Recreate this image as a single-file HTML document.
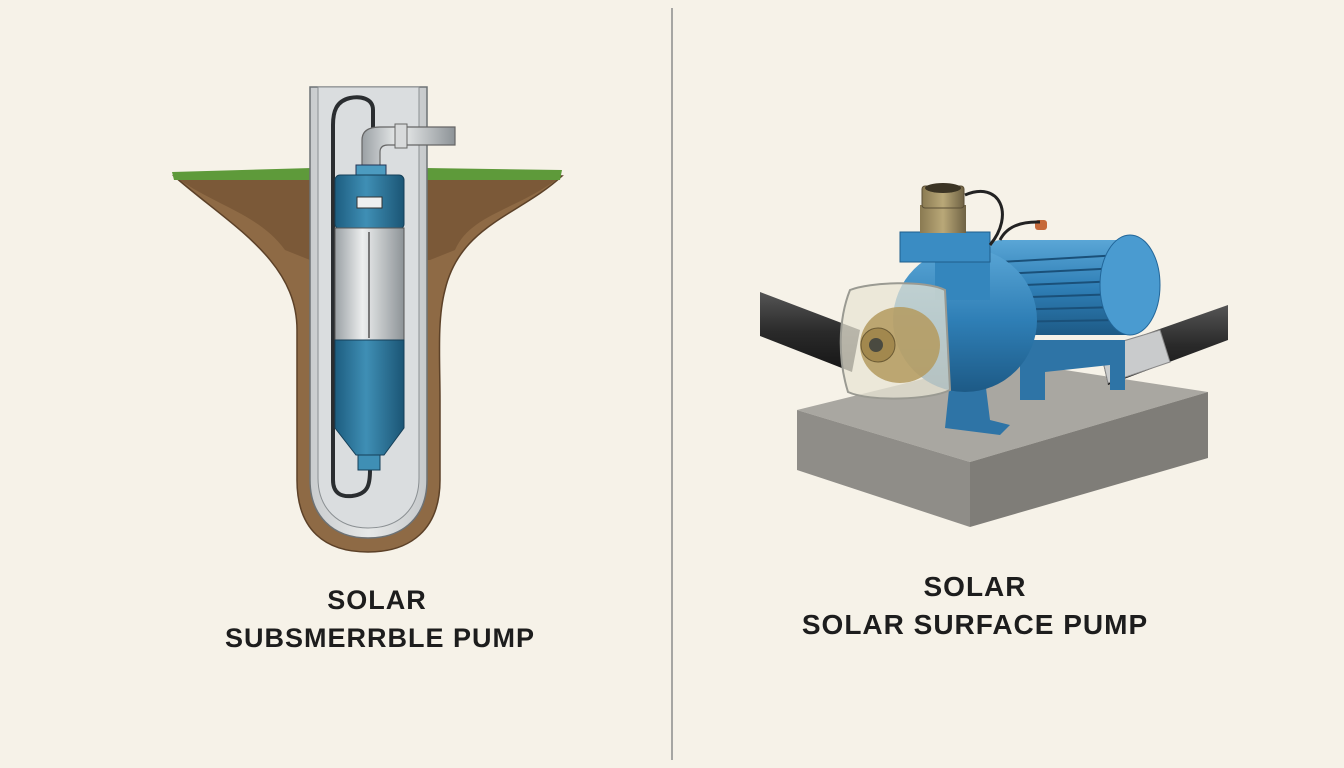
<!DOCTYPE html>
<html><head><meta charset="utf-8"><style>
html,body{margin:0;padding:0;background:#f6f2e8;}
svg{display:block}
text{font-family:"Liberation Sans",sans-serif;font-weight:bold;fill:#1d1d1d;letter-spacing:1px}
</style></head><body>
<svg width="1344" height="768" viewBox="0 0 1344 768" xmlns="http://www.w3.org/2000/svg">
<defs>
<linearGradient id="blue" x1="0" x2="1"><stop offset="0" stop-color="#1d5d80"/><stop offset="0.45" stop-color="#3f8fb5"/><stop offset="1" stop-color="#1b5575"/></linearGradient>
<linearGradient id="silver" x1="0" x2="1"><stop offset="0" stop-color="#9aa0a4"/><stop offset="0.4" stop-color="#eceeee"/><stop offset="1" stop-color="#8d9397"/></linearGradient>
<linearGradient id="casing" x1="0" x2="1"><stop offset="0" stop-color="#c9ccce"/><stop offset="0.5" stop-color="#e6e8e8"/><stop offset="1" stop-color="#c6c9cb"/></linearGradient>
<linearGradient id="mblue" x1="0" y1="0" x2="0" y2="1"><stop offset="0" stop-color="#5aa6d6"/><stop offset="0.5" stop-color="#2f7fb6"/><stop offset="1" stop-color="#1d5a86"/></linearGradient>
<linearGradient id="brass" x1="0" x2="1"><stop offset="0" stop-color="#8a7a52"/><stop offset="0.5" stop-color="#b9a878"/><stop offset="1" stop-color="#6f6244"/></linearGradient>
<linearGradient id="hose" x1="0" y1="0" x2="0" y2="1"><stop offset="0" stop-color="#555"/><stop offset="0.5" stop-color="#2a2a2a"/><stop offset="1" stop-color="#151515"/></linearGradient>
</defs>

<path d="M174,176 L562,176 C520,215 460,225 445,290 C437,320 440,360 440,400 L440,480 C440,530 410,552 368,552 C325,552 297,530 297,480 L297,330 C297,260 230,225 174,176 Z" fill="#8e6a45" stroke="#5c4128" stroke-width="1.5"/>
<path d="M180,180 L556,180 C515,210 470,215 455,250 L430,260 L310,260 L285,250 C260,215 215,205 180,180Z" fill="#6e4e31" opacity="0.6"/>
<path d="M172,172 L312,168 L312,180 L174,180 Z" fill="#5e9a3a"/>
<path d="M425,168 L562,170 L560,180 L425,180 Z" fill="#5e9a3a"/>
<path d="M310,87 L427,87 L427,480 C427,515 405,538 368,538 C332,538 310,515 310,480 Z" fill="url(#casing)" stroke="#6d7275" stroke-width="1.5"/>
<path d="M318,87 L419,87 L419,478 C419,508 400,528 368,528 C338,528 318,508 318,478 Z" fill="#dadddf" stroke="#8a8f92" stroke-width="1"/>
<path d="M373,128 L373,110 C373,98 360,96 350,98 C336,101 333,112 333,125 L333,480 C333,494 342,497 352,496 C368,494 370,485 370,470" fill="none" stroke="#2a2d30" stroke-width="4"/>
<path d="M362,168 L362,140 C362,130 370,127 380,127 L455,127 L455,145 L388,145 C382,145 380,148 380,152 L380,168 Z" fill="url(#silver)" stroke="#666" stroke-width="1.2"/>
<rect x="395" y="124" width="12" height="24" fill="#d8dadb" stroke="#666"/>
<rect x="356" y="165" width="30" height="10" fill="#4c9bc0" stroke="#235"/>
<rect x="335" y="175" width="69" height="54" rx="5" fill="url(#blue)" stroke="#153f58"/>
<rect x="357" y="197" width="25" height="11" fill="#eef0f0" stroke="#333"/>
<rect x="335" y="228" width="69" height="112" fill="url(#silver)" stroke="#555"/>
<line x1="369" y1="232" x2="369" y2="338" stroke="#777" stroke-width="2"/>
<path d="M335,340 L404,340 L404,428 L384,455 L356,455 L335,428 Z" fill="url(#blue)" stroke="#153f58"/>
<rect x="358" y="455" width="22" height="15" fill="#3f8fb5" stroke="#153f58"/>

<line x1="672" y1="8" x2="672" y2="760" stroke="#8c8c8c" stroke-width="1.5"/>

<path d="M797,410 L1000,360 L1208,392 L970,462 Z" fill="#a9a7a1"/>
<path d="M797,410 L970,462 L970,527 L797,470 Z" fill="#8f8d88"/>
<path d="M970,462 L1208,392 L1208,458 L970,527 Z" fill="#7f7d78"/>
<path d="M760,292 L860,330 L852,372 L760,336 Z" fill="url(#hose)"/>
<path d="M1100,350 L1228,305 L1228,340 L1108,385 Z" fill="url(#hose)"/>
<path d="M1100,348 L1160,330 L1170,362 L1108,383 Z" fill="#c9cbcc" stroke="#888"/>
<rect x="990" y="240" width="150" height="95" rx="10" fill="url(#mblue)"/>
<g stroke="#1a5079" stroke-width="2">
<line x1="1000" y1="262" x2="1120" y2="255"/><line x1="1000" y1="274" x2="1120" y2="268"/><line x1="1000" y1="286" x2="1120" y2="281"/><line x1="1000" y1="298" x2="1120" y2="294"/><line x1="1000" y1="310" x2="1120" y2="307"/><line x1="1000" y1="322" x2="1120" y2="320"/></g>
<ellipse cx="1130" cy="285" rx="30" ry="50" fill="#4a9bd0" stroke="#226699"/>
<rect x="1035" y="220" width="12" height="10" rx="3" fill="#c66a3a"/>
<path d="M1020,340 L1125,340 L1125,390 L1110,390 L1110,365 L1045,372 L1045,400 L1020,400 Z" fill="#2e74a6"/>
<path d="M950,380 L985,380 L990,420 L1010,425 L1000,435 L945,428 Z" fill="#2e74a6"/>
<circle cx="965" cy="320" r="72" fill="url(#mblue)"/>
<rect x="935" y="240" width="55" height="60" fill="#3486bd"/>
<path d="M900,232 L990,232 L990,262 L900,262 Z" fill="#3a8cc3" stroke="#1f5e8c"/>
<rect x="920" y="205" width="46" height="28" fill="url(#brass)"/>
<rect x="922" y="186" width="42" height="22" rx="3" fill="url(#brass)" stroke="#5a4e35"/>
<ellipse cx="943" cy="188" rx="18" ry="5" fill="#3b3424"/>
<path d="M965,195 C1000,180 1015,215 990,245 M1000,240 C1010,220 1035,222 1040,222" fill="none" stroke="#222" stroke-width="3"/>
<path d="M850,290 C870,282 925,280 945,290 L950,390 C930,400 870,402 848,392 C838,360 838,320 850,290 Z" fill="#e8e4d4" fill-opacity="0.75" stroke="#9a9a92" stroke-width="2"/>
<ellipse cx="900" cy="345" rx="40" ry="38" fill="#b49a5e" opacity="0.85"/>
<circle cx="878" cy="345" r="17" fill="#a2884e" stroke="#6b5a34"/>
<circle cx="876" cy="345" r="7" fill="#4a4a40"/>

<text x="377" y="609" font-size="27" text-anchor="middle">SOLAR</text>
<text x="380" y="647" font-size="27" text-anchor="middle">SUBSMERRBLE PUMP</text>
<text x="975" y="596" font-size="28" text-anchor="middle">SOLAR</text>
<text x="975" y="634" font-size="28" text-anchor="middle">SOLAR SURFACE PUMP</text>
</svg>
</body></html>
